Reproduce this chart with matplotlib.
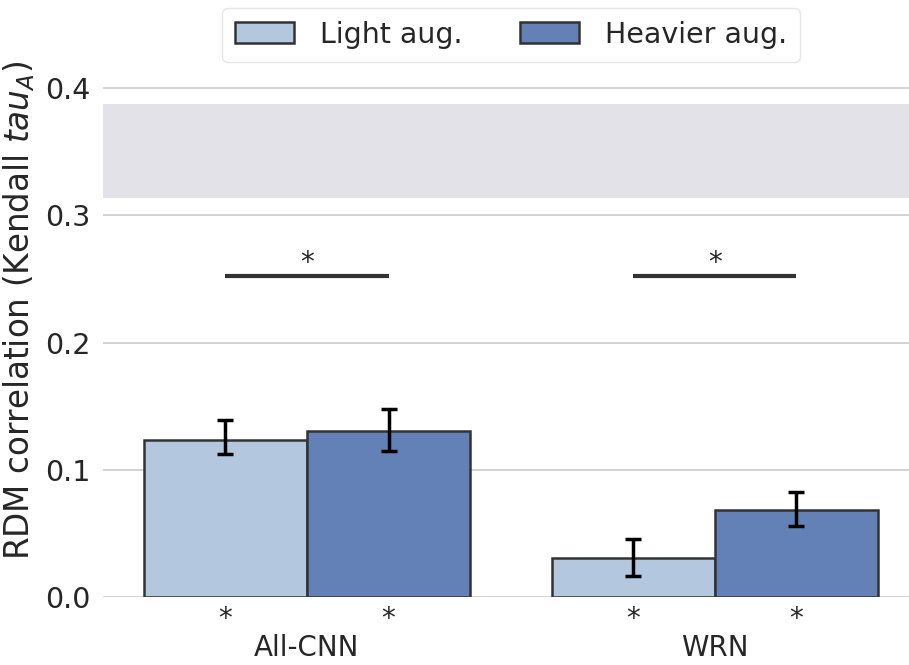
import matplotlib
matplotlib.use("Agg")
import matplotlib.pyplot as plt
import numpy as np

categories = ["All-CNN", "WRN"]
series_names = ["Light aug.", "Heavier aug."]
light_vals = [0.1234, 0.0306]
heavy_vals = [0.1305, 0.0684]
light_err_lo = [0.1124, 0.0165]
light_err_hi = [0.1391, 0.0456]
heavy_err_lo = [0.1147, 0.0558]
heavy_err_hi = [0.1477, 0.0825]
ceiling_lo = 0.3136
ceiling_hi = 0.3874
sig_line_y = 0.2523
yticks = [0.0, 0.1, 0.2, 0.3, 0.4]

colors = ["#b3c8df", "#6381b6"]
edge = "#333333"

fig = plt.figure(figsize=(9.09, 6.65), dpi=100)
ax = fig.add_axes([103/909, 1 - 597/665, (909 - 103)/909, (597 - 24.4)/665])
ax.set_xlim(-0.5, 1.476)
ax.set_ylim(0, 0.45)

for s in ax.spines.values():
    s.set_visible(False)
ax.set_axisbelow(True)
ax.yaxis.grid(True, color="#d3d3d3", lw=1.4)
ax.set_yticks(yticks)
ax.set_yticklabels([f"{t:.1f}" for t in yticks])

ax.axhspan(ceiling_lo, ceiling_hi, color="#e2e2e8", lw=0, zorder=0.5)

x = np.arange(len(categories))
w = 0.4
vals = [light_vals, heavy_vals]
errs_lo = [light_err_lo, heavy_err_lo]
errs_hi = [light_err_hi, heavy_err_hi]
for i in range(2):
    xs = x + (i - 0.5) * w
    v = np.array(vals[i])
    ax.bar(xs, v, width=w, color=colors[i], edgecolor=edge, linewidth=1.8,
           label=series_names[i], zorder=2)
    yerr = np.vstack([v - np.array(errs_lo[i]), np.array(errs_hi[i]) - v])
    ax.errorbar(xs, v, yerr=yerr, fmt="none", ecolor="black", elinewidth=2.5,
                capsize=6, capthick=2.5, zorder=3)
    for xx in xs:
        ax.text(xx, -0.006, "*", ha="center", va="top", fontsize=20, color="#262626")

for xc in x:
    ax.plot([xc - w/2, xc + w/2], [sig_line_y, sig_line_y], color="#333333", lw=3,
            solid_capstyle="butt", zorder=3)
    ax.text(xc, sig_line_y - 0.0007, "*", ha="center", va="bottom", fontsize=20, color="#262626")

ax.set_xticks(x)
ax.set_xticklabels(categories)
ax.tick_params(axis="x", length=0, pad=27, labelsize=20, labelcolor="#262626")
ax.tick_params(axis="y", length=0, pad=9, labelsize=20.5, labelcolor="#262626")
ax.set_ylabel(r"RDM correlation (Kendall $tau_A$)", fontsize=23.5, color="#262626")
ax.yaxis.set_label_coords(37/909, 1 - 310/665, transform=fig.transFigure)

leg = fig.legend(loc="upper center", bbox_to_anchor=(511/909, 1 - 8/665),
                 bbox_transform=fig.transFigure, borderaxespad=0, ncol=2,
                 fontsize=20.5, handlelength=2.1, handleheight=0.75, handletextpad=0.9,
                 columnspacing=2.0, frameon=True, fancybox=True, edgecolor="#e0e0e0",
                 borderpad=0.45)
for t in leg.get_texts():
    t.set_color("#262626")

fig.savefig("out.png", dpi=100)
